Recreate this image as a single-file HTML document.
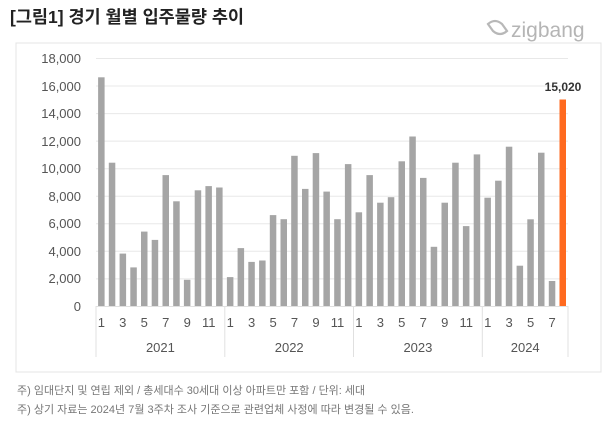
<!DOCTYPE html>
<html><head><meta charset="utf-8"><style>
body{margin:0;background:#fff;width:616px;height:437px;overflow:hidden;font-family:"Liberation Sans","Noto Sans CJK KR",sans-serif}
</style></head><body>
<svg width="616" height="437" viewBox="0 0 616 437" xmlns="http://www.w3.org/2000/svg" font-family="Liberation Sans, Noto Sans CJK KR, sans-serif">
<text x="10" y="23" font-size="17.5" font-weight="bold" fill="#222">[그림1] 경기 월별 입주물량 추이</text>
<g fill="none" stroke="#b8b8b8" stroke-width="2.2"><path d="M488 24 q7 -6 14 0 l5 7 q-7 6 -14 0 z"/></g>
<text x="511" y="37" font-size="21" fill="#b5b5b5">zigbang</text>
<rect x="16" y="43" width="585" height="329" fill="none" stroke="#e4e4e4"/>
<g stroke="#e8e8e8" stroke-width="1">
<line x1="96" x2="568" y1="58.5" y2="58.5"/><line x1="96" x2="568" y1="86" y2="86"/><line x1="96" x2="568" y1="113.6" y2="113.6"/><line x1="96" x2="568" y1="141.1" y2="141.1"/><line x1="96" x2="568" y1="168.7" y2="168.7"/><line x1="96" x2="568" y1="196.2" y2="196.2"/><line x1="96" x2="568" y1="223.8" y2="223.8"/><line x1="96" x2="568" y1="251.3" y2="251.3"/><line x1="96" x2="568" y1="278.9" y2="278.9"/>
</g>
<g font-size="13" fill="#555" text-anchor="end">
<text x="81" y="63">18,000</text><text x="81" y="91">16,000</text><text x="81" y="118">14,000</text><text x="81" y="146">12,000</text><text x="81" y="173">10,000</text><text x="81" y="201">8,000</text><text x="81" y="228">6,000</text><text x="81" y="256">4,000</text><text x="81" y="283">2,000</text><text x="81" y="311">0</text>
</g>
<g fill="#a5a5a5">
<rect x="98.1" y="77.3" width="6.5" height="228.7"/><rect x="108.8" y="162.7" width="6.5" height="143.3"/><rect x="119.6" y="253.6" width="6.5" height="52.4"/><rect x="130.3" y="267.4" width="6.5" height="38.6"/><rect x="141.0" y="231.6" width="6.5" height="74.4"/><rect x="151.7" y="239.9" width="6.5" height="66.1"/><rect x="162.5" y="175.1" width="6.5" height="130.9"/><rect x="173.2" y="201.3" width="6.5" height="104.7"/><rect x="183.9" y="279.8" width="6.5" height="26.2"/><rect x="194.7" y="190.3" width="6.5" height="115.7"/><rect x="205.4" y="186.1" width="6.5" height="119.9"/><rect x="216.1" y="187.5" width="6.5" height="118.5"/>
<rect x="226.9" y="277.1" width="6.5" height="28.9"/><rect x="237.6" y="248.1" width="6.5" height="57.9"/><rect x="248.3" y="261.9" width="6.5" height="44.1"/><rect x="259.1" y="260.5" width="6.5" height="45.5"/><rect x="269.8" y="215.1" width="6.5" height="90.9"/><rect x="280.5" y="219.2" width="6.5" height="86.8"/><rect x="291.2" y="155.8" width="6.5" height="150.2"/><rect x="302.0" y="188.9" width="6.5" height="117.1"/><rect x="312.7" y="153.1" width="6.5" height="152.9"/><rect x="323.4" y="191.6" width="6.5" height="114.4"/><rect x="334.2" y="219.2" width="6.5" height="86.8"/><rect x="344.9" y="164.1" width="6.5" height="141.9"/>
<rect x="355.6" y="212.3" width="6.5" height="93.7"/><rect x="366.4" y="175.1" width="6.5" height="130.9"/><rect x="377.1" y="202.7" width="6.5" height="103.3"/><rect x="387.8" y="197.2" width="6.5" height="108.8"/><rect x="398.5" y="161.3" width="6.5" height="144.7"/><rect x="409.3" y="136.5" width="6.5" height="169.5"/><rect x="420.0" y="177.9" width="6.5" height="128.1"/><rect x="430.7" y="246.8" width="6.5" height="59.2"/><rect x="441.5" y="202.7" width="6.5" height="103.3"/><rect x="452.2" y="162.7" width="6.5" height="143.3"/><rect x="462.9" y="226.1" width="6.5" height="79.9"/><rect x="473.7" y="154.4" width="6.5" height="151.6"/>
<rect x="484.4" y="197.7" width="6.5" height="108.3"/><rect x="495.1" y="180.7" width="6.5" height="125.3"/><rect x="505.8" y="146.7" width="6.5" height="159.3"/><rect x="516.6" y="265.7" width="6.5" height="40.3"/><rect x="527.3" y="219.3" width="6.5" height="86.7"/><rect x="538.0" y="152.7" width="6.5" height="153.3"/><rect x="548.8" y="281" width="6.5" height="25"/>
</g>
<rect x="559.5" y="99.5" width="6.5" height="206.5" fill="#ff6a1f"/>
<text x="563" y="91" font-size="12" font-weight="bold" fill="#333" text-anchor="middle">15,020</text>
<g stroke="#e0e0e0" stroke-width="1">
<line x1="96" x2="568" y1="306.5" y2="306.5"/>
<line x1="96" x2="96" y1="306" y2="357"/><line x1="224.8" x2="224.8" y1="306" y2="357"/><line x1="353.5" x2="353.5" y1="306" y2="357"/><line x1="482.3" x2="482.3" y1="306" y2="357"/><line x1="568" x2="568" y1="306" y2="357"/>
</g>
<g font-size="13" fill="#555" text-anchor="middle">
<text x="101.4" y="327">1</text><text x="122.8" y="327">3</text><text x="144.3" y="327">5</text><text x="165.8" y="327">7</text><text x="187.2" y="327">9</text><text x="208.7" y="327">11</text>
<text x="230.2" y="327">1</text><text x="251.6" y="327">3</text><text x="273.1" y="327">5</text><text x="294.5" y="327">7</text><text x="316.0" y="327">9</text><text x="337.5" y="327">11</text>
<text x="358.9" y="327">1</text><text x="380.4" y="327">3</text><text x="401.8" y="327">5</text><text x="423.3" y="327">7</text><text x="444.8" y="327">9</text><text x="466.2" y="327">11</text>
<text x="487.7" y="327">1</text><text x="509.1" y="327">3</text><text x="530.6" y="327">5</text><text x="552.1" y="327">7</text>
<text x="160.4" y="352">2021</text><text x="289.2" y="352">2022</text><text x="417.9" y="352">2023</text><text x="525.2" y="352">2024</text>
</g>
<g font-size="11" fill="#777">
<text x="17" y="394">주) 임대단지 및 연립 제외 / 총세대수 30세대 이상 아파트만 포함 / 단위: 세대</text>
<text x="17" y="413">주) 상기 자료는 2024년 7월 3주차 조사 기준으로 관련업체 사정에 따라 변경될 수 있음.</text>
</g>
</svg>
</body></html>
